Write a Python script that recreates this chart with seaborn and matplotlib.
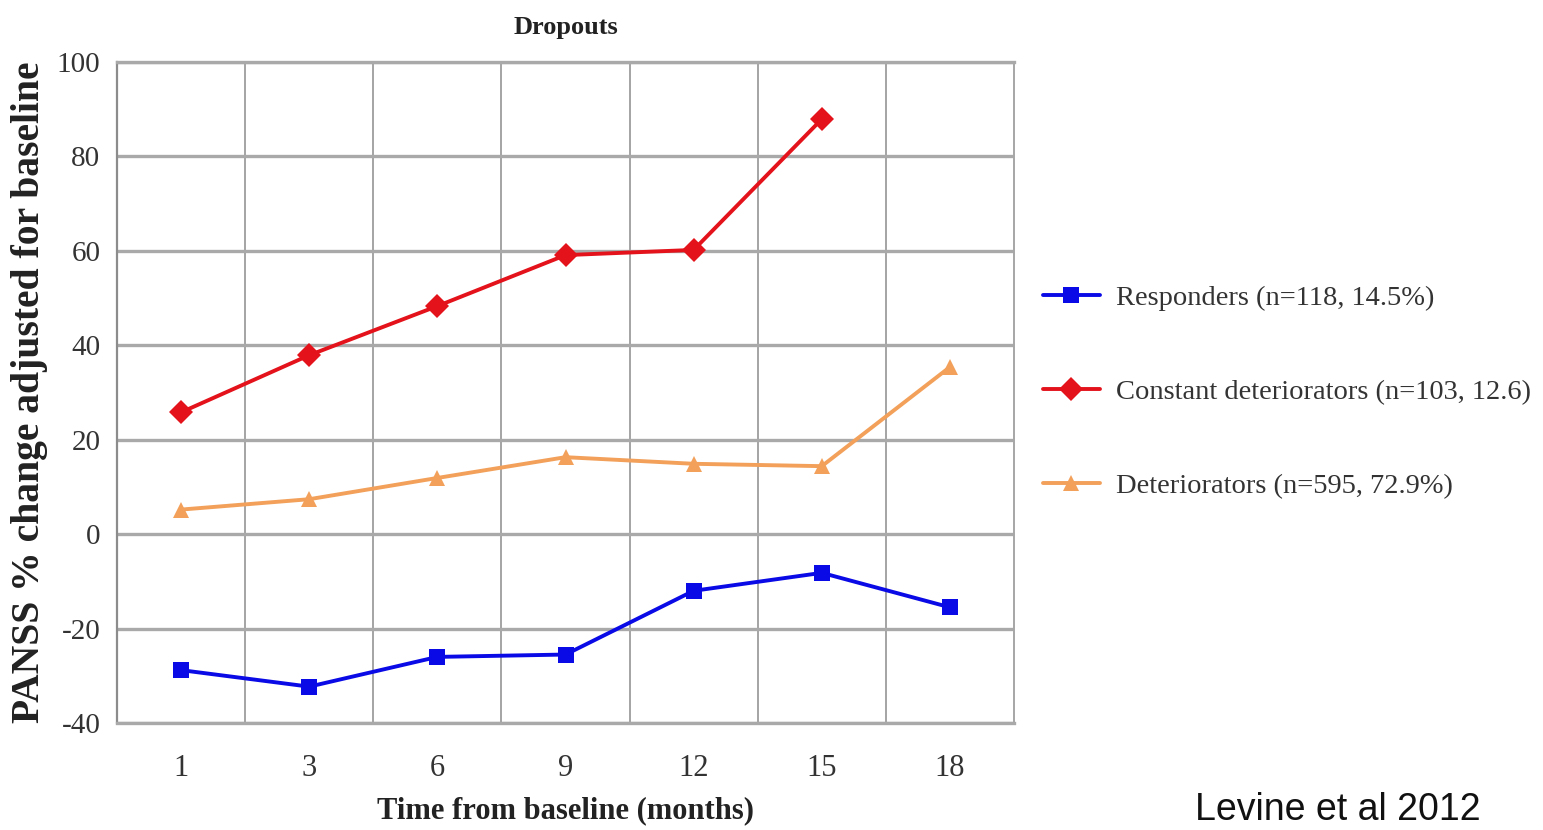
import pandas as pd
import matplotlib
matplotlib.use("Agg")
import matplotlib.pyplot as plt
import seaborn as sns

# values (PANSS % change, dropouts)
MONTHS = ["1", "3", "6", "9", "12", "15", "18"]
RESPONDERS = [-28.8, -32.3, -26.0, -25.5, -12.0, -8.2, -15.5]
CONSTANT_DET = [25.8, 37.9, 48.3, 59.1, 60.2, 87.9]
DETERIORATORS = [5.2, 7.4, 11.9, 16.3, 14.9, 14.4, 35.4]

GROUPS = [
    "Responders (n=118, 14.5%)",
    "Constant deteriorators (n=103, 12.6)",
    "Deteriorators (n=595, 72.9%)",
]
COLORS = ["#0a0ae6", "#e3121b", "#f2a05a"]
MARKERS = ["s", "D", "^"]

sns.set_theme(style="white")
plt.rcParams["font.family"] = ["Liberation Serif", "DejaVu Serif"]

rows = []
for grp, vals in zip(GROUPS, [RESPONDERS, CONSTANT_DET, DETERIORATORS]):
    for m, v in zip(MONTHS, vals):
        rows.append({"Month": m, "Value": v, "Group": grp})
df = pd.DataFrame(rows)

fig = plt.figure(figsize=(15.43, 8.30), dpi=100)
ax = fig.add_axes([117 / 1543, 1 - 723 / 830, (1014 - 117) / 1543, (723 - 62) / 830])

sns.lineplot(
    data=df,
    x="Month",
    y="Value",
    hue="Group",
    style="Group",
    hue_order=GROUPS,
    style_order=GROUPS,
    palette=COLORS,
    markers=MARKERS,
    dashes=False,
    linewidth=2.8,
    markersize=12,
    markeredgewidth=0,
    sort=False,
    ax=ax,
    zorder=5,
)

ax.set_xlim(-0.5, len(MONTHS) - 0.5)
ax.set_ylim(-40, 100)
ax.set_yticks(range(-40, 101, 20))
ax.set_yticklabels([str(t) for t in range(-40, 101, 20)], fontsize=21)
ax.set_xticks(range(len(MONTHS)))
ax.set_xticklabels(MONTHS, fontsize=22)
ax.set_xticks([i + 0.5 for i in range(len(MONTHS) - 1)], minor=True)

GRID_H = "#a9a9a9"
ax.grid(axis="y", which="major", color=GRID_H, linewidth=2.4)
ax.grid(axis="x", which="minor", color="#8c8c8c", linewidth=1.1)
ax.tick_params(axis="x", which="major", length=0, pad=22, colors="#333333")
ax.tick_params(axis="x", which="minor", length=6, width=1.1, color="#8c8c8c")
ax.tick_params(axis="y", which="major", length=7, width=2, color=GRID_H,
               pad=5, colors="#333333")
ax.tick_params(axis="y", which="major", color=GRID_H)

for side in ["top", "bottom"]:
    ax.spines[side].set_color(GRID_H)
    ax.spines[side].set_linewidth(2.4)
ax.spines["left"].set_color("#8c8c8c")
ax.spines["left"].set_linewidth(1.6)
ax.spines["right"].set_color("#a6a6a6")
ax.spines["right"].set_linewidth(1.4)

ax.set_title("Dropouts", fontsize=19, fontweight="bold", pad=20, color="#222222")
ax.set_xlabel("Time from baseline (months)", fontsize=22, fontweight="bold",
              labelpad=10, color="#222222")
ax.set_ylabel("PANSS % change adjusted for baseline", fontsize=28.5,
              fontweight="bold", labelpad=6, color="#222222")

ax.legend_.remove()
handles, labels = ax.get_legend_handles_labels()
fig.legend(
    handles,
    labels,
    loc="center left",
    bbox_to_anchor=(1043 / 1543, 1 - 392 / 830),
    frameon=False,
    fontsize=20.5,
    handlelength=2.0,
    handletextpad=0.55,
    labelspacing=2.4,
    borderpad=0,
    borderaxespad=0,
    labelcolor="#333333",
)

fig.text(1195 / 1543, 10 / 830, "Levine et al 2012", fontsize=27,
         family=["Liberation Sans", "DejaVu Sans"], ha="left", va="baseline",
         color="#111111")

fig.savefig("out.png", dpi=100)
